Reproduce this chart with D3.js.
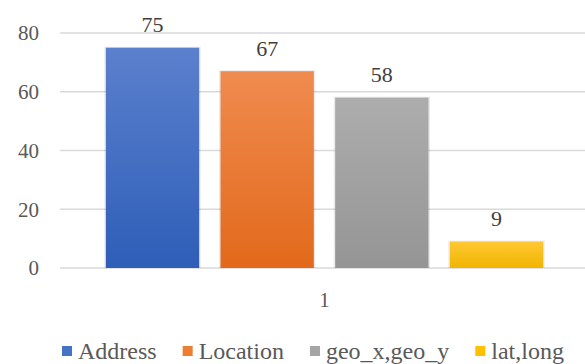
<!DOCTYPE html>
<html>
<head>
<meta charset="utf-8">
<script src="https://cdn.jsdelivr.net/npm/d3@7"></script>
<style>
  svg text { font-family: "Liberation Serif" !important; }
</style>
</head>
<body style="margin:0; background:#fff">
<svg id="canvas"></svg>
<script>
const categories = ["1"];
const seriesNames = ["Address", "Location", "geo_x,geo_y", "lat,long"];
const seriesValues = [75, 67, 58, 9];
const yTicks = [0, 20, 40, 60, 80];

const colors = ["#4472c4", "#ed7d31", "#a5a5a5", "#ffc000"];
const gradTop = ["#5b80cd", "#f08b4f", "#adadad", "#ffc834"];
const gradBottom = ["#2e5eb8", "#e2691b", "#959595", "#f0b500"];

const font = "'Liberation Serif'";
const width = 585;
const height = 364;
const margin = { top: 33, right: -4, bottom: 96, left: 60 };

const svg = d3.select("#canvas")
    .attr("width", width)
    .attr("height", height)
    .attr("font-family", "Liberation Serif")
    .style("font-family", font);

const defs = svg.append("defs");
seriesNames.forEach((s, i) => {
    const g = defs.append("linearGradient")
        .attr("id", "grad" + i)
        .attr("x1", 0).attr("y1", 0).attr("x2", 0).attr("y2", 1);
    g.append("stop").attr("offset", "0%").attr("stop-color", gradTop[i]);
    g.append("stop").attr("offset", "100%").attr("stop-color", gradBottom[i]);
});

const x0 = d3.scaleBand()
    .domain(categories)
    .range([margin.left, width - margin.right])
    .paddingOuter(0.1048);

const x1 = d3.scaleBand()
    .domain(seriesNames)
    .range([0, x0.bandwidth()])
    .paddingInner(0.186)
    .paddingOuter(0);

const y = d3.scaleLinear()
    .domain([0, 80])
    .range([height - margin.bottom, margin.top]);

// gridlines
svg.append("g")
    .selectAll("line")
    .data(yTicks)
    .enter()
    .append("line")
    .attr("x1", margin.left)
    .attr("x2", width)
    .attr("y1", d => y(d))
    .attr("y2", d => y(d))
    .attr("stroke", "#d9d9d9")
    .attr("stroke-width", 1.3);

// y tick labels
svg.append("g")
    .selectAll("text")
    .data(yTicks)
    .enter()
    .append("text")
    .attr("x", 39)
    .attr("y", d => y(d))
    .attr("dy", "0.35em")
    .attr("text-anchor", "end")
    .attr("fill", "#595959")
    .attr("font-family", "Liberation Serif")
    .style("font-family", font)
    .style("font-size", "21px")
    .text(d => d);

// bars (soft halo behind each bar stands in for the shadow)
const rows = seriesNames.map((s, i) => ({ cat: categories[0], name: s, value: seriesValues[i], i: i }));

const bars = svg.append("g");
bars.selectAll("rect.halo")
    .data(rows)
    .enter()
    .append("rect")
    .attr("class", "halo")
    .attr("x", d => x0(d.cat) + x1(d.name) - 1.5)
    .attr("y", d => y(d.value) - 1)
    .attr("width", x1.bandwidth() + 3)
    .attr("height", d => y(0) - y(d.value) + 1)
    .attr("fill", "#000")
    .attr("opacity", 0.08);

bars.selectAll("rect.bar")
    .data(rows)
    .enter()
    .append("rect")
    .attr("class", "bar")
    .attr("x", d => x0(d.cat) + x1(d.name))
    .attr("y", d => y(d.value))
    .attr("width", x1.bandwidth())
    .attr("height", d => y(0) - y(d.value))
    .attr("fill", d => "url(#grad" + d.i + ")");

// value labels
svg.append("g")
    .selectAll("text")
    .data(rows)
    .enter()
    .append("text")
    .attr("x", d => x0(d.cat) + x1(d.name) + x1.bandwidth() / 2)
    .attr("y", d => y(d.value) - 15.5)
    .attr("text-anchor", "middle")
    .attr("fill", "#404040")
    .attr("font-family", "Liberation Serif")
    .style("font-family", font)
    .style("font-size", "22px")
    .text(d => d.value);

// category label
svg.append("g")
    .selectAll("text")
    .data(categories)
    .enter()
    .append("text")
    .attr("x", d => x0(d) + x0.bandwidth() / 2)
    .attr("y", 307)
    .attr("text-anchor", "middle")
    .attr("fill", "#595959")
    .attr("font-family", "Liberation Serif")
    .style("font-family", font)
    .style("font-size", "21px")
    .text(d => d);

// legend
const legend = svg.append("g");
let lx = 62;
seriesNames.forEach((s, i) => {
    legend.append("rect")
        .attr("x", lx)
        .attr("y", 346)
        .attr("width", 10)
        .attr("height", 10)
        .attr("fill", colors[i]);
    const t = legend.append("text")
        .attr("x", lx + 16)
        .attr("y", 359)
        .attr("fill", "#595959")
        .attr("font-family", "Liberation Serif")
        .style("font-family", font)
        .style("font-size", "24px")
        .text(s);
    lx += 16 + t.node().getComputedTextLength() + 26;
});
</script>
</body>
</html>
